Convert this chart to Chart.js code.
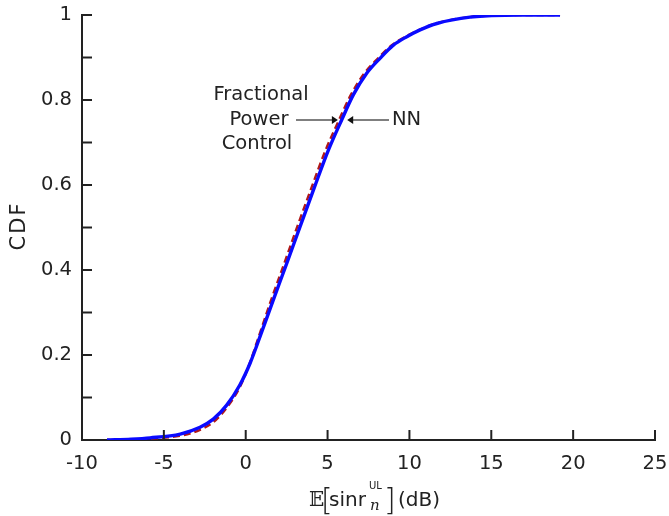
<!DOCTYPE html>
<html>
<head>
<meta charset="utf-8">
<script src="https://cdn.jsdelivr.net/npm/chart.js@4.4.1/dist/chart.umd.min.js"></script>
<style>
  html, body { margin: 0; padding: 0; background: #fff; }
  #wrap { width: 669px; height: 516px; }
</style>
</head>
<body>
<div id="wrap"><canvas id="cdf" width="669" height="516"></canvas></div>
<script>
// CDF of uplink SINR
const sinrNN  = [-8.47, -7, -5.84, -4.0, -2.79, -1.98, -1.16, -0.35, 0.26, 0.9, 1.67, 2.5, 3.32, 4.2, 5.05, 5.86, 6.57, 7.39, 8.2, 9.02, 9.84, 10.65, 11.67, 13.7, 16.76, 19.2];
const cdfNN   = [0, 0.002, 0.005, 0.014, 0.03, 0.049, 0.082, 0.13, 0.18, 0.246, 0.328, 0.415, 0.502, 0.595, 0.682, 0.753, 0.812, 0.863, 0.898, 0.929, 0.949, 0.965, 0.98, 0.995, 1.0, 1.0];
const sinrFPC = [-8.47, -7, -5.84, -4.0, -2.79, -1.98, -1.16, -0.35, 0.22, 0.82, 1.54, 2.35, 3.15, 4.03, 4.88, 5.7, 6.42, 7.25, 8.08, 8.92, 9.76, 10.6, 11.62, 13.65, 16.7, 19.2];
const cdfFPC  = [0, 0.001, 0.003, 0.01, 0.024, 0.042, 0.076, 0.125, 0.178, 0.246, 0.328, 0.415, 0.502, 0.595, 0.682, 0.753, 0.812, 0.863, 0.898, 0.929, 0.949, 0.965, 0.98, 0.995, 1.0, 1.0];

const xTicks = [-10, -5, 0, 5, 10, 15, 20, 25];
const yMajor = [0, 0.2, 0.4, 0.6, 0.8, 1];

const labelFont = '"DejaVu Sans", sans-serif';
const ink = '#222';

const pts = (xs, ys) => xs.map((x, i) => ({ x: x, y: ys[i] }));

// ticks pointing into the plot, plus axis titles and arrow labels
const decor = {
  id: 'decor',
  afterDraw(chart) {
    const ctx = chart.ctx;
    const xs = chart.scales.x, ys = chart.scales.y;
    const area = chart.chartArea;
    ctx.save();
    ctx.strokeStyle = ink;
    ctx.lineWidth = 2;
    xTicks.forEach(v => {
      const px = xs.getPixelForValue(v);
      ctx.beginPath(); ctx.moveTo(px, area.bottom); ctx.lineTo(px, area.bottom - 10); ctx.stroke();
    });
    for (let k = 0; k <= 10; k++) {
      const py = ys.getPixelForValue(k / 10);
      ctx.beginPath(); ctx.moveTo(area.left, py); ctx.lineTo(area.left + 10, py); ctx.stroke();
    }

    // y title
    ctx.fillStyle = ink;
    ctx.font = '21px ' + labelFont;
    ctx.letterSpacing = '2px';
    ctx.textAlign = 'center';
    ctx.textBaseline = 'middle';
    ctx.save();
    ctx.translate(20, 226);
    ctx.rotate(-Math.PI / 2);
    ctx.fillText('CDF', 0, 0);
    ctx.restore();
    ctx.letterSpacing = '0px';

    // x title: E[sinr_n^UL] (dB)
    ctx.textAlign = 'left';
    ctx.textBaseline = 'alphabetic';
    const base = 506;
    ctx.font = '20px "DejaVu Serif", serif';
    ctx.fillText('𝔼', 309, base);
    ctx.font = '200 30px "DejaVu Sans", sans-serif';
    ctx.fillText('[', 321, base + 4);
    ctx.font = '20px ' + labelFont;
    ctx.fillText('sinr', 329, base);
    ctx.font = '10px ' + labelFont;
    ctx.fillText('UL', 369, base - 17);
    ctx.font = 'italic 15px "DejaVu Serif", serif';
    ctx.fillText('n', 370, base + 4);
    ctx.font = '200 30px "DejaVu Sans", sans-serif';
    ctx.fillText(']', 384, base + 4);
    ctx.font = '20px ' + labelFont;
    ctx.fillText('(dB)', 398, base);

    // annotations
    const ay = ys.getPixelForValue(0.753);
    const tipL = xs.getPixelForValue(5.63);
    const tipR = xs.getPixelForValue(6.2);
    ctx.font = '19.5px ' + labelFont;
    ctx.textAlign = 'center';
    ctx.textBaseline = 'middle';
    ctx.fillText('Fractional', 261, ay - 25);
    ctx.fillText('Power', 259, ay);
    ctx.fillText('Control', 257, ay + 24);
    ctx.textAlign = 'left';
    ctx.fillText('NN', 392, ay);

    ctx.strokeStyle = '#555';
    ctx.lineWidth = 1.5;
    ctx.beginPath(); ctx.moveTo(296, ay); ctx.lineTo(tipL - 4, ay); ctx.stroke();
    ctx.beginPath(); ctx.moveTo(tipR + 4, ay); ctx.lineTo(389, ay); ctx.stroke();
    ctx.fillStyle = '#111';
    ctx.beginPath(); ctx.moveTo(tipL, ay); ctx.lineTo(tipL - 6, ay - 4); ctx.lineTo(tipL - 6, ay + 4); ctx.closePath(); ctx.fill();
    ctx.beginPath(); ctx.moveTo(tipR, ay); ctx.lineTo(tipR + 6, ay - 4); ctx.lineTo(tipR + 6, ay + 4); ctx.closePath(); ctx.fill();
    ctx.restore();
  }
};

new Chart(document.getElementById('cdf'), {
  type: 'line',
  data: {
    datasets: [
      {
        label: 'NN',
        data: pts(sinrNN, cdfNN),
        borderColor: '#0a0aff',
        borderWidth: 3.4,
        pointRadius: 0,
        cubicInterpolationMode: 'monotone',
        order: 1
      },
      {
        label: 'Fractional Power Control',
        data: pts(sinrFPC, cdfFPC),
        borderColor: '#b01818',
        borderWidth: 2.4,
        borderDash: [7, 4],
        pointRadius: 0,
        cubicInterpolationMode: 'monotone',
        order: 2
      }
    ]
  },
  options: {
    responsive: false,
    animation: false,
    events: [],
    layout: { padding: { left: 0, top: 15, right: 14, bottom: 0 } },
    plugins: { legend: { display: false }, tooltip: { enabled: false } },
    scales: {
      x: {
        type: 'linear',
        min: -10,
        max: 25,
        afterBuildTicks: s => { s.ticks = xTicks.map(v => ({ value: v })); },
        afterFit: s => { s.height = 76; s.paddingLeft = 0; s.paddingRight = 0; },
        grid: { display: false, drawTicks: false },
        border: { display: true, color: ink, width: 2 },
        ticks: { padding: 12, color: ink, font: { family: labelFont, size: 19.5 }, maxRotation: 0 }
      },
      y: {
        type: 'linear',
        min: 0,
        max: 1,
        afterBuildTicks: s => { s.ticks = yMajor.map(v => ({ value: v })); },
        afterFit: s => { s.width = 82; s.paddingTop = 0; s.paddingBottom = 0; },
        grid: { display: false, drawTicks: false },
        border: { display: true, color: ink, width: 2 },
        ticks: {
          padding: 10,
          color: ink,
          font: { family: labelFont, size: 19.5 },
          callback: v => (v === 0 || v === 1) ? String(v) : v.toFixed(1)
        }
      }
    }
  },
  plugins: [decor]
});
</script>
</body>
</html>
